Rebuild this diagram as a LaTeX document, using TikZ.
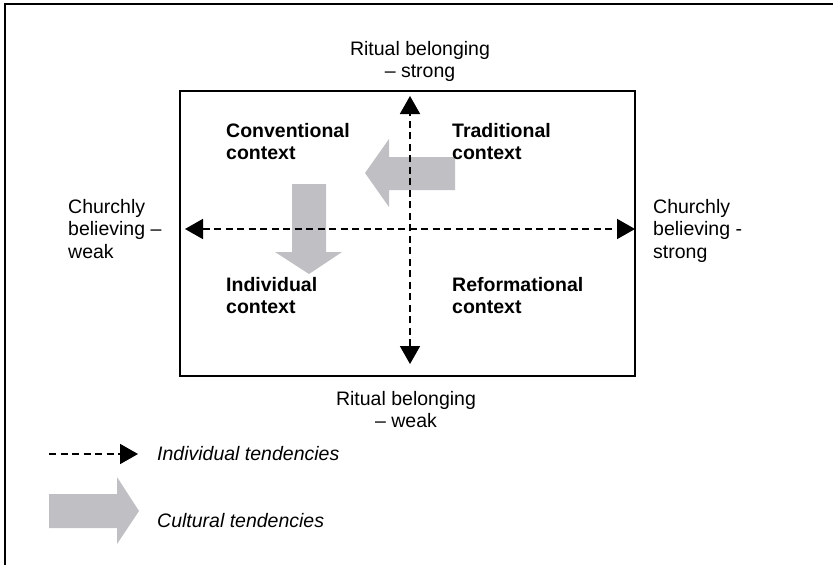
\documentclass[tikz,border=0pt]{standalone}
\usepackage{fontspec}
\setmainfont{Liberation Sans}
\usetikzlibrary{arrows.meta}
\definecolor{arrowgray}{RGB}{192,192,196}
\tikzset{
  lbl/.style={inner sep=0pt, align=left, font=\fontsize{19.5}{22.5}\selectfont},
  clbl/.style={inner sep=0pt, align=center, font=\fontsize{19.5}{22.5}\selectfont},
  ctx/.style={inner sep=0pt, align=left, font=\fontsize{19.5}{22.5}\selectfont\bfseries},
  leg/.style={inner sep=0pt, font=\fontsize{19.5}{22.5}\selectfont\itshape},
  axis/.style={line width=1.8pt, dash pattern=on 7pt off 4.5pt, -{Triangle[length=18pt,width=20pt]}},
  axis2/.style={line width=1.8pt, dash pattern=on 7pt off 4.5pt, {Triangle[length=18pt,width=20pt]}-{Triangle[length=18pt,width=20pt]}},
  bigarrow/.style={fill=arrowgray, draw=none}
}
\begin{document}
\begin{tikzpicture}[x=1pt,y=-1pt]
\useasboundingbox (0,0) rectangle (833,565);
% outer frame (only left and top visible)
\draw[line width=2pt] (5,565) -- (5,4) -- (833,4);
% inner rectangle
\draw[line width=2pt] (180,91) rectangle (635,376);
% cultural tendency arrows
\fill[bigarrow] (455,157) -- (389,157) -- (389,139) -- (365,173) -- (389,207) -- (389,190) -- (455,190) -- cycle;
\fill[bigarrow] (292,184) -- (326,184) -- (326,252) -- (342,252) -- (309,274) -- (275,252) -- (292,252) -- cycle;
% axes
\coordinate (vtop) at (410,96);
\coordinate (vbot) at (410,364);
\coordinate (hleft) at (185,229);
\coordinate (hright) at (635,229);
\draw[axis2] (vbot) -- (vtop);
\draw[axis2] (hleft) -- (hright);
% axis labels
\node[clbl, anchor=north] (top) at (420,41) {Ritual belonging\\– strong};
\node[clbl, anchor=north] (bot) at (406,391) {Ritual belonging\\– weak};
\node[lbl, anchor=north west] (left) at (68,199) {Churchly\\believing –\\weak};
\node[lbl, anchor=north west] (right) at (653,199) {Churchly\\believing -\\strong};
% contexts
\node[ctx, anchor=north west] (conv) at (226,123) {Conventional\\context};
\node[ctx, anchor=north west] (trad) at (452,123) {Traditional\\context};
\node[ctx, anchor=north west] (indiv) at (226,277) {Individual\\context};
\node[ctx, anchor=north west] (reform) at (452,277) {Reformational\\context};
% legend
\coordinate (l1a) at (49,454);
\coordinate (l1b) at (138,454);
\draw[axis] (l1a) -- (l1b);
\node[leg, anchor=base west] (indtend) at (157,460) {Individual tendencies};
\fill[bigarrow] (49,494) -- (117,494) -- (117,477) -- (139,511) -- (117,544) -- (117,528) -- (49,528) -- cycle;
\node[leg, anchor=base west] (cultend) at (157,527) {Cultural tendencies};
\end{tikzpicture}
\end{document}
